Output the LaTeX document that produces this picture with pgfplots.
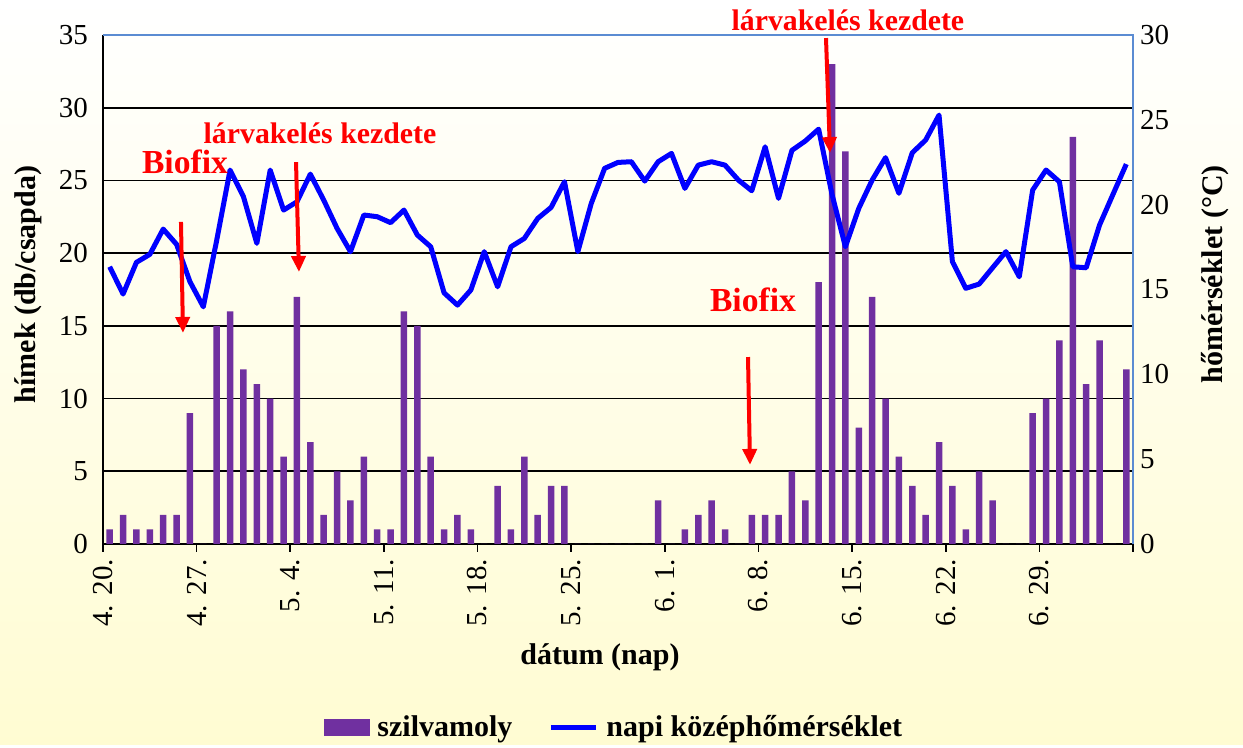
\documentclass[border=0pt]{standalone}
\usepackage{fontspec}
\setmainfont{Liberation Serif}
\usepackage{pgfplots}
\usepackage{pgfplotstable}
\pgfplotsset{compat=1.18}
\usetikzlibrary{arrows.meta}
\definecolor{barpurple}{RGB}{112,48,160}
\definecolor{bgyellow}{RGB}{255,252,210}
\definecolor{frameblue}{RGB}{91,140,210}

\pgfplotstableread{
x y
0.5 1
1.5 2
2.5 1
3.5 1
4.5 2
5.5 2
6.5 9
7.5 0
8.5 15
9.5 16
10.5 12
11.5 11
12.5 10
13.5 6
14.5 17
15.5 7
16.5 2
17.5 5
18.5 3
19.5 6
20.5 1
21.5 1
22.5 16
23.5 15
24.5 6
25.5 1
26.5 2
27.5 1
28.5 0
29.5 4
30.5 1
31.5 6
32.5 2
33.5 4
34.5 4
35.5 0
36.5 0
37.5 0
38.5 0
39.5 0
40.5 0
41.5 3
42.5 0
43.5 1
44.5 2
45.5 3
46.5 1
47.5 0
48.5 2
49.5 2
50.5 2
51.5 5
52.5 3
53.5 18
54.5 33
55.5 27
56.5 8
57.5 17
58.5 10
59.5 6
60.5 4
61.5 2
62.5 7
63.5 4
64.5 1
65.5 5
66.5 3
67.5 0
68.5 0
69.5 9
70.5 10
71.5 14
72.5 28
73.5 11
74.5 14
75.5 0
76.5 12
}\barsdata

\pgfplotstableread{
x t
0.5 16.34
1.5 14.73
2.5 16.6
3.5 17.07
4.5 18.56
5.5 17.66
6.5 15.46
7.5 13.98
8.5 17.9
9.5 22.04
10.5 20.47
11.5 17.72
12.5 22.04
13.5 19.68
14.5 20.17
15.5 21.8
16.5 20.27
17.5 18.6
18.5 17.23
19.5 19.39
20.5 19.29
21.5 18.94
22.5 19.68
23.5 18.21
24.5 17.52
25.5 14.8
26.5 14.08
27.5 14.97
28.5 17.23
29.5 15.16
30.5 17.52
31.5 18.01
32.5 19.19
33.5 19.84
34.5 21.35
35.5 17.23
36.5 20.07
37.5 22.14
38.5 22.49
39.5 22.53
40.5 21.39
41.5 22.53
42.5 23.02
43.5 20.96
44.5 22.33
45.5 22.53
46.5 22.33
47.5 21.45
48.5 20.82
49.5 23.41
50.5 20.37
51.5 23.2
52.5 23.75
53.5 24.45
54.5 20.6
55.5 17.52
56.5 19.78
57.5 21.45
58.5 22.77
59.5 20.67
60.5 23.06
61.5 23.81
62.5 25.28
63.5 16.64
64.5 15.07
65.5 15.32
66.5 16.28
67.5 17.23
68.5 15.75
69.5 20.86
70.5 22.04
71.5 21.35
72.5 16.34
73.5 16.28
74.5 18.8
75.5 20.6
76.5 22.39
}\tempdata

\begin{document}
\begin{tikzpicture}
\shade[top color=white, bottom color=bgyellow] (-51.5pt,-100.5pt) rectangle (570pt,272pt);

\begin{axis}[
  at={(0pt,0pt)}, anchor=south west,
  scale only axis, width=515pt, height=254.5pt,
  xmin=0, xmax=77, ymin=0, ymax=35,
  axis x line*=bottom, axis y line*=left,
  xtick={0,7,...,77},
  xticklabels={4. 20.,4. 27.,5. 4.,5. 11.,5. 18.,5. 25.,6. 1.,6. 8.,6. 15.,6. 22.,6. 29.,},
  x tick label style={rotate=90, anchor=east, font=\fontsize{14.5}{15}\selectfont},
  ytick={0,5,...,35},
  y tick label style={font=\fontsize{14.5}{15}\selectfont},
  /pgf/number format/assume math mode=true,
  ymajorgrids, grid style={black, line width=0.8pt},
  tick style={black, line width=0.8pt}, tick align=outside, major tick length=4pt,
  ytick style={draw=none},
  axis line style={black, line width=0.8pt},
  every axis y label/.style={at={(axis description cs:-0.073,0.51)}, rotate=90, anchor=center},
  every axis x label/.style={at={(axis description cs:0.4825,-0.222)}, anchor=center},
  ylabel={\bfseries\fontsize{15}{15}\selectfont hímek (db/csapda)},
  xlabel={\bfseries\fontsize{15}{15}\selectfont dátum (nap)},
  ybar, bar width=3.25pt,
  clip=false,
]
\addplot[fill=barpurple, draw=none] table[x=x, y=y] {\barsdata};
\end{axis}

\begin{axis}[
  at={(0pt,0pt)}, anchor=south west,
  scale only axis, width=515pt, height=254.5pt,
  xmin=0, xmax=77, ymin=0, ymax=30,
  axis x line=none, axis y line*=right,
  ytick={0,5,...,30},
  y tick label style={font=\fontsize{14.5}{15}\selectfont},
  /pgf/number format/assume math mode=true,
  ytick style={draw=none},
  axis line style={frameblue, line width=0.8pt},
  every axis y label/.style={at={(axis description cs:1.0796,0.53)}, rotate=90, anchor=center},
  ylabel={\bfseries\fontsize{15}{15}\selectfont hőmérséklet (°C)},
  clip=false,
  legend style={at={(axis description cs:0.499,-0.36)}, anchor=center, draw=none, fill=none,
    legend columns=2, font=\bfseries\fontsize{15}{15}\selectfont,
    /tikz/every even column/.append style={column sep=14pt},
    nodes={inner xsep=4pt}},
]
\addlegendimage{legend image code/.code={\fill[barpurple] (0pt,-4pt) rectangle (22.5pt,4pt);}}
\addlegendentry{szilvamoly}
\addplot[blue, line width=2.5pt, line join=round, mark=none,
  legend image code/.code={\draw[blue, line width=2.5pt] (0pt,0pt) -- (22.5pt,0pt);}]
  table[x=x, y=t] {\tempdata};
\addlegendentry{napi középhőmérséklet}

\draw[frameblue, line width=0.8pt] (axis description cs:0,1) -- (axis description cs:1,1) -- (axis description cs:1,0);

\node[red, font=\bfseries\fontsize{16.8}{17}\selectfont] at (axis cs:6.13,22.51) {Biofix};
\node[red, font=\bfseries\fontsize{14.9}{15}\selectfont] at (axis cs:16.22,24.22) {lárvakelés kezdete};
\node[red, font=\bfseries\fontsize{14.9}{15}\selectfont] at (axis cs:55.69,30.88) {lárvakelés kezdete};
\node[red, font=\bfseries\fontsize{16.8}{17}\selectfont] at (axis cs:48.59,14.38) {Biofix};
\draw[red, line width=2pt, -{Triangle[width=7pt,length=8pt]}] (axis cs:5.83,18.98) -- (axis cs:5.98,12.44);
\draw[red, line width=2pt, -{Triangle[width=7pt,length=8pt]}] (axis cs:14.43,22.51) -- (axis cs:14.65,16.03);
\draw[red, line width=2pt, -{Triangle[width=7pt,length=8pt]}] (axis cs:54.05,29.82) -- (axis cs:54.35,23.04);
\draw[red, line width=2pt, -{Triangle[width=7pt,length=8pt]}] (axis cs:48.22,11.02) -- (axis cs:48.37,4.66);
\end{axis}
\end{tikzpicture}
\end{document}
